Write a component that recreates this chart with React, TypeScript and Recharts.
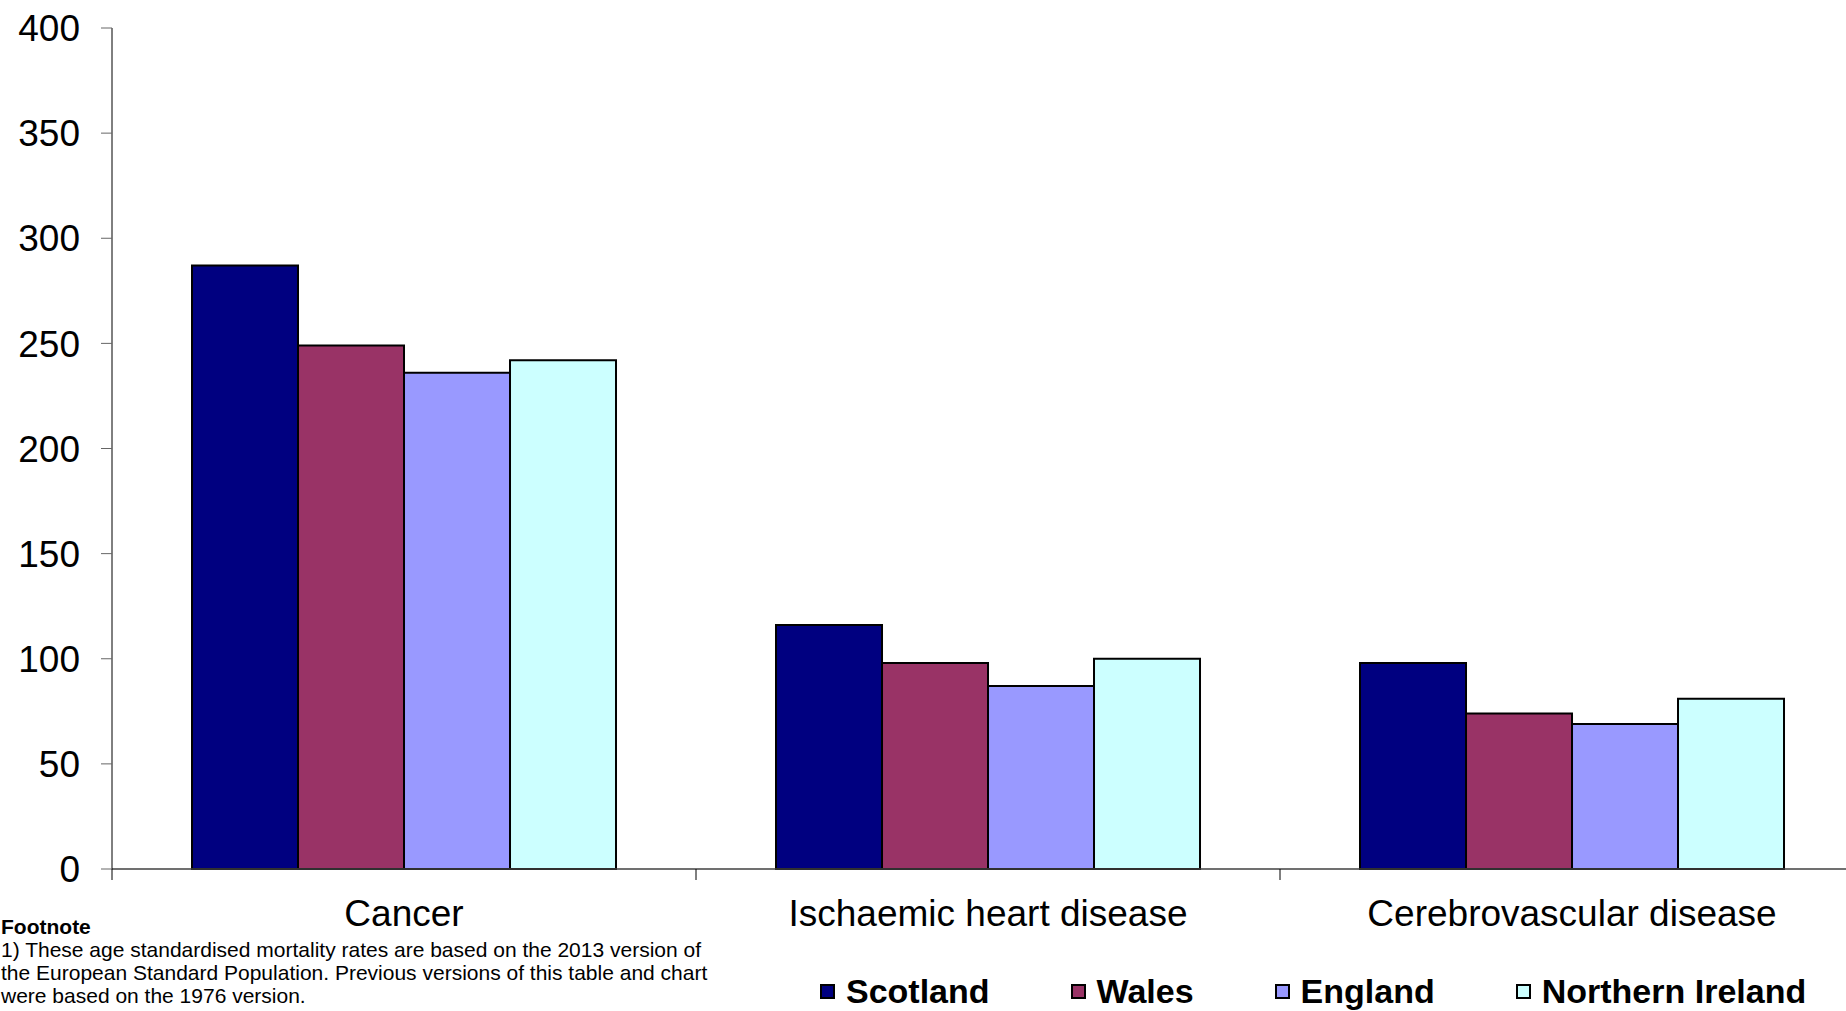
import { Bar, BarChart, Legend, XAxis, YAxis } from 'recharts';

// Age standardised mortality rates by cause of death (per 100,000),
// read off the reference chart.
const CATEGORIES = ['Cancer', 'Ischaemic heart disease', 'Cerebrovascular disease'];
const SCOTLAND = [287, 116, 98];
const WALES = [249, 98, 74];
const ENGLAND = [236, 87, 69];
const NORTHERN_IRELAND = [242, 100, 81];
const Y_TICKS = [0, 50, 100, 150, 200, 250, 300, 350, 400];

const SERIES = [
  { key: 'scotland', name: 'Scotland', values: SCOTLAND, fill: '#000080' },
  { key: 'wales', name: 'Wales', values: WALES, fill: '#993366' },
  { key: 'england', name: 'England', values: ENGLAND, fill: '#9999FF' },
  { key: 'ni', name: 'Northern Ireland', values: NORTHERN_IRELAND, fill: '#CCFFFF' },
];

const DATA = CATEGORIES.map((category, i) => {
  const row: Record<string, string | number> = { category };
  SERIES.forEach((s) => {
    row[s.key] = s.values[i];
  });
  return row;
});

const FONT = '"Liberation Sans", Arial, sans-serif';
const X_TICK_SIZE = 11;
const X_TICK_MARGIN = 20;

// Category label plus Excel-style tick marks on the band edges
// (payload.offset is half the band width, given by recharts).
function CategoryTick(props: any) {
  const { x, y, payload, index, visibleTicksCount } = props;
  const axisY = y - X_TICK_SIZE - X_TICK_MARGIN;
  const half = payload?.offset ?? 0;
  const edges = [x - half];
  if (index === visibleTicksCount - 1) edges.push(x + half);
  return (
    <g>
      {edges.map((e) => (
        <line
          key={e}
          x1={e}
          x2={e}
          y1={axisY}
          y2={axisY + X_TICK_SIZE}
          stroke="#000"
          strokeWidth={1}
        />
      ))}
      <text x={x} y={y} dy="0.71em" textAnchor="middle" fontSize={37} fill="#000">
        {payload.value}
      </text>
    </g>
  );
}

function LegendContent(props: any) {
  const payload = [...(props.payload ?? [])];
  // keep series order (recharts sorts legend items by name)
  const order = (v: string) => SERIES.findIndex((s) => s.name === v);
  payload.sort((a: any, b: any) => order(a.value) - order(b.value));
  return (
    <div style={{ display: 'flex', alignItems: 'center', whiteSpace: 'nowrap' }}>
      {payload.map((entry: any) => {
        const s = SERIES.find((x) => x.name === entry.value);
        return (
          <div
            key={entry.value}
            style={{ display: 'flex', alignItems: 'center', marginRight: 81 }}
          >
            <span
              style={{
                display: 'inline-block',
                width: 11,
                height: 11,
                border: '2px solid #000',
                background: s ? s.fill : entry.color,
                marginRight: 11,
              }}
            />
            <span
              style={{
                fontSize: 34,
                fontWeight: 'bold',
                lineHeight: '34px',
                color: '#000',
              }}
            >
              {entry.value}
            </span>
          </div>
        );
      })}
    </div>
  );
}

export default function App() {
  return (
    <div
      style={{
        position: 'relative',
        width: 1846,
        height: 1011,
        overflow: 'hidden',
        background: '#fff',
        fontFamily: FONT,
      }}
    >
      <style>{'body{margin:0}'}</style>
      <BarChart
        width={1870}
        height={1011}
        data={DATA}
        margin={{ top: 28, right: 6, bottom: 141, left: 0 }}
        barCategoryGap="13.7%"
        barGap={0}
      >
        <XAxis
          dataKey="category"
          height={1}
          interval={0}
          axisLine={{ stroke: '#404040', strokeWidth: 1.5 }}
          tickLine={false}
          tickSize={X_TICK_SIZE}
          tickMargin={X_TICK_MARGIN}
          tick={CategoryTick}
        />
        <YAxis
          domain={[0, 400]}
          ticks={Y_TICKS}
          interval={0}
          width={112}
          axisLine={{ stroke: '#000', strokeWidth: 1 }}
          tickLine={{ stroke: '#666', strokeWidth: 1 }}
          tickSize={11}
          tickMargin={21}
          tick={{ fontSize: 37, fill: '#000' }}
        />
        <Legend
          verticalAlign="middle"
          align="center"
          layout="horizontal"
          content={LegendContent}
          wrapperStyle={{ top: 974, left: 820, width: 'auto' }}
        />
        {SERIES.map((s) => (
          <Bar
            key={s.key}
            dataKey={s.key}
            name={s.name}
            fill={s.fill}
            stroke="#000"
            strokeWidth={2}
            isAnimationActive={false}
          />
        ))}
      </BarChart>
      <div
        style={{
          position: 'absolute',
          left: 1,
          top: 915,
          fontSize: 21,
          lineHeight: '23px',
          color: '#000',
          whiteSpace: 'nowrap',
        }}
      >
        <div style={{ fontWeight: 'bold' }}>Footnote</div>
        <div>1) These age standardised mortality rates are based on the 2013 version of</div>
        <div>the European Standard Population. Previous versions of this table and chart</div>
        <div>were based on the 1976 version.</div>
      </div>
    </div>
  );
}
